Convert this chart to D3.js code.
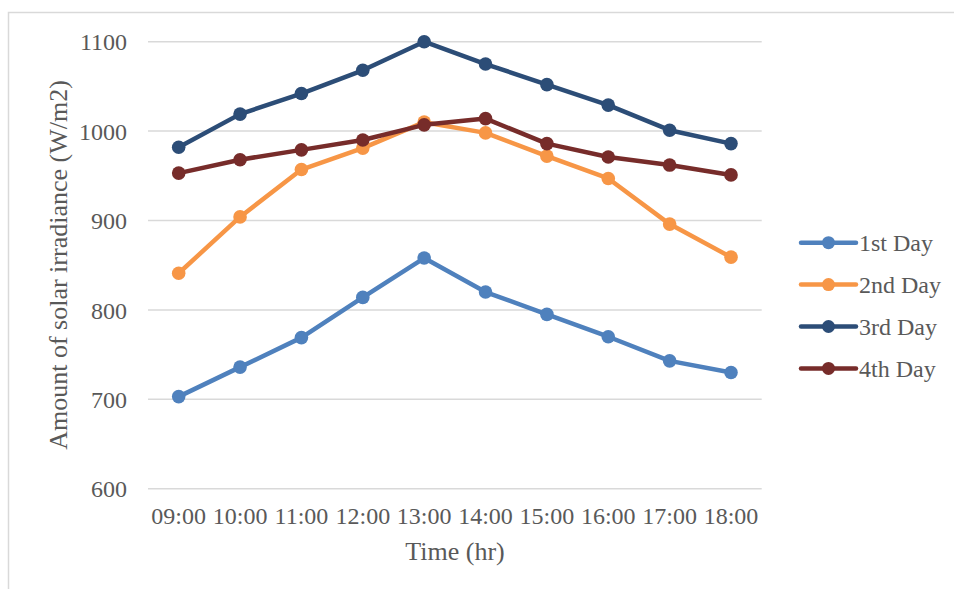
<!DOCTYPE html>
<html><head><meta charset="utf-8">
<script src="https://cdn.jsdelivr.net/npm/d3@7"></script>
<style>body{margin:0;background:#fff}svg{display:block}</style>
</head><body>
<svg id="c" width="954" height="589"></svg>
<script>
const categories = ["09:00","10:00","11:00","12:00","13:00","14:00","15:00","16:00","17:00","18:00"];
const seriesNames = ["1st Day","2nd Day","3rd Day","4th Day"];
const day1 = [703,736,769,814,858,820,795,770,743,730];
const day2 = [841,904,957,981,1010,998,972,947,896,859];
const day3 = [982,1019,1042,1068,1100,1075,1052,1029,1001,986];
const day4 = [953,968,979,990,1007,1014,986,971,962,951];
const yTicks = [600,700,800,900,1000,1100];
const colors = ["#4f81bd","#f79646","#2c4d77","#772c2a"];
const seriesValues = [day1,day2,day3,day4];

const svg = d3.select("#c");
const font = "'Liberation Serif','Times New Roman',serif";
const txt = "#595959";

svg.append("rect").attr("x",8.5).attr("y",12.5).attr("width",1000).attr("height",1000)
  .attr("fill","none").attr("stroke","#d9d9d9").attr("stroke-width",1.5);

const x = d3.scaleBand().domain(categories).range([148,761.7]);
const y = d3.scaleLinear().domain([600,1100]).range([488.7,41.7]);

// gridlines
svg.append("g").selectAll("line").data(yTicks).join("line")
  .attr("x1",148).attr("x2",761.7)
  .attr("y1",d=>y(d)).attr("y2",d=>y(d))
  .attr("stroke","#d9d9d9").attr("stroke-width",1.5);

// y axis labels
const yAxis = d3.axisLeft(y).tickValues(yTicks).tickFormat(d3.format("d")).tickSize(0).tickPadding(0);
const gy = svg.append("g").attr("transform","translate(127,0)").call(yAxis)
  .attr("font-family",font).attr("font-size",24);
gy.select(".domain").remove();
gy.selectAll("text").attr("fill",txt).attr("dy","0.34em");

// x axis labels
const xAxis = d3.axisBottom(x).tickSize(0).tickPadding(0);
const gx = svg.append("g").attr("transform","translate(0,507)").call(xAxis)
  .attr("font-family",font).attr("font-size",24);
gx.select(".domain").remove();
gx.selectAll("text").attr("fill",txt).attr("dy","0.71em");

// axis titles
svg.append("text").attr("x",455).attr("y",560).attr("text-anchor","middle")
  .attr("font-family",font).attr("font-size",26).attr("fill",txt).text("Time (hr)");
svg.append("text").attr("transform","translate(67,265) rotate(-90)").attr("text-anchor","middle")
  .attr("font-family",font).attr("font-size",26).attr("fill",txt).text("Amount of solar irradiance (W/m2)");

const cx = d => x(d) + x.bandwidth()/2;
const line = d3.line().x((d,i)=>cx(categories[i])).y(d=>y(d));

seriesValues.forEach((vals,si)=>{
  const g = svg.append("g");
  g.append("path").datum(vals).attr("d",line).attr("fill","none")
    .attr("stroke",colors[si]).attr("stroke-width",4.5).attr("stroke-linejoin","round");
  g.selectAll("circle").data(vals).join("circle")
    .attr("cx",(d,i)=>cx(categories[i])).attr("cy",d=>y(d)).attr("r",6.8).attr("fill",colors[si]);
});

// legend
const leg = svg.append("g");
seriesNames.forEach((n,i)=>{
  const ly = 242.7 + i*41.9;
  leg.append("line").attr("x1",801).attr("x2",856).attr("y1",ly).attr("y2",ly)
    .attr("stroke",colors[i]).attr("stroke-width",4.5).attr("stroke-linecap","round");
  leg.append("circle").attr("cx",828.5).attr("cy",ly).attr("r",6.5).attr("fill",colors[i]);
  leg.append("text").attr("x",859).attr("y",ly).attr("dy","0.34em")
    .attr("font-family",font).attr("font-size",24).attr("fill",txt).text(n);
});
</script>
</body></html>
